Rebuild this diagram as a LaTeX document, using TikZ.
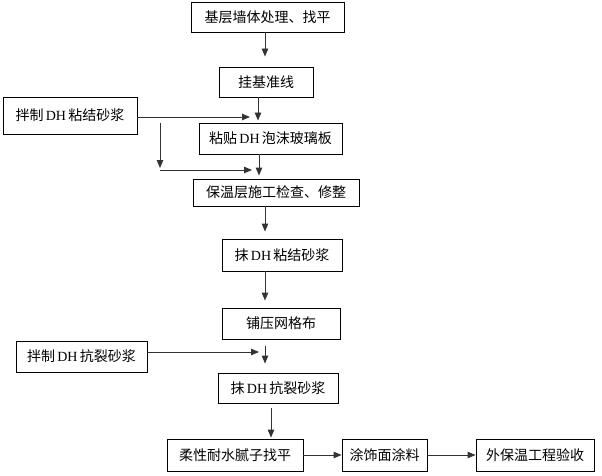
\documentclass[tikz,border=0pt]{standalone}
\usepackage{fontspec}
\setmainfont{Noto Sans CJK SC}
\newfontfamily\latf{Liberation Serif}
\usetikzlibrary{arrows.meta}
\newcommand{\dhtxt}{\,{\latf DH}\,}
\begin{document}
\begin{tikzpicture}[x=1pt,y=-1pt,
  box/.style={draw=black,line width=0.9pt,inner sep=0pt,font=\fontsize{14}{16}\selectfont},
  arr/.style={draw=black!80,line width=0.9pt,-{Triangle[length=8pt,width=6.5pt]}}]
\useasboundingbox[fill=white] (0,0) rectangle (602,476);
\node[box,minimum width=153pt,minimum height=30pt] (n1) at (267.5,17) {基层墙体处理、找平};
\node[box,minimum width=94pt,minimum height=30pt] (n2) at (266,82) {挂基准线};
\node[box,minimum width=143pt,minimum height=31pt] (n3) at (270.5,138.5) {粘贴\dhtxt 泡沫玻璃板};
\node[box,minimum width=134pt,minimum height=37pt] (l1) at (70,115.5) {拌制\dhtxt 粘结砂浆};
\node[box,minimum width=166pt,minimum height=27pt] (n4) at (276,192.5) {保温层施工检查、修整};
\node[box,minimum width=120pt,minimum height=32pt] (n5) at (282,255) {抹\dhtxt 粘结砂浆};
\node[box,minimum width=118pt,minimum height=31pt] (n6) at (281,323.5) {铺压网格布};
\node[box,minimum width=131pt,minimum height=31pt] (l2) at (81.5,356.5) {拌制\dhtxt 抗裂砂浆};
\node[box,minimum width=120pt,minimum height=30pt] (n7) at (278,388) {抹\dhtxt 抗裂砂浆};
\node[box,minimum width=136pt,minimum height=32pt] (n8) at (235,455) {柔性耐水腻子找平};
\node[box,minimum width=85pt,minimum height=32pt] (n9) at (384.5,455) {涂饰面涂料};
\node[box,minimum width=118pt,minimum height=32pt] (n10) at (535,455) {外保温工程验收};
\coordinate (m1) at (250,117);
\coordinate (v1a) at (160,123);
\coordinate (v1b) at (160,168);
\coordinate (h2a) at (160,170);
\coordinate (h2b) at (252,170);
\coordinate (m2) at (259,352);
\draw[arr,shorten >=10pt] ([xshift=-2.5pt]n1.south) -- ([xshift=-1pt]n2.north);
\draw[arr,shorten >=2pt] ([xshift=-8pt]n2.south) -- ([xshift=-12.5pt]n3.north);
\draw[arr] (l1.east |- m1) -- (m1);
\draw[arr] (v1a) -- (v1b);
\draw[arr] (h2a) -- (h2b);
\draw[arr,shorten >=3pt] ([xshift=-11.5pt]n3.south) -- ([xshift=-17pt]n4.north);
\draw[arr,shorten >=7pt] ([xshift=-11pt]n4.south) -- ([xshift=-17pt]n5.north);
\draw[arr,shorten >=7pt] ([xshift=-17pt]n5.south) -- ([xshift=-16pt]n6.north);
\draw[arr,shorten <=7pt,shorten >=9pt] ([xshift=-16pt]n6.south) -- ([xshift=-13pt]n7.north);
\draw[arr] (l2.east |- m2) -- (m2);
\draw[arr,shorten <=5pt,shorten >=1pt] ([xshift=-7pt]n7.south) -- ([xshift=36pt]n8.north);
\draw[arr] (n8.east) -- (n9.west);
\draw[arr] (n9.east) -- (n10.west);
\end{tikzpicture}
\end{document}
